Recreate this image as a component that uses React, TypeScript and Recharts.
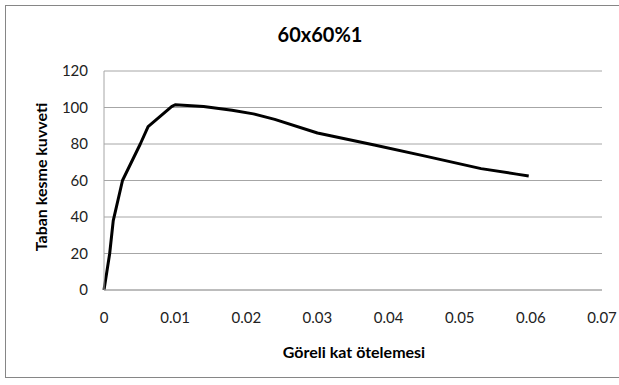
import { LineChart, Line, XAxis, YAxis, CartesianGrid } from "recharts";

// Göreli kat ötelemesi (x) vs taban kesme kuvveti (y)
const drift = [0, 0.0004, 0.0008, 0.0013, 0.0026, 0.0051, 0.0062, 0.0095, 0.01, 0.014, 0.018, 0.021, 0.024, 0.03, 0.038, 0.045, 0.053, 0.058, 0.0597];
const shear = [0, 10, 20, 38, 60, 80, 89.5, 100.5, 101.5, 100.5, 98.5, 96.5, 93.5, 86, 79.5, 73.5, 66.5, 63.5, 62.5];

const xTicks = [0, 0.01, 0.02, 0.03, 0.04, 0.05, 0.06, 0.07];
const yTicks = [0, 20, 40, 60, 80, 100, 120];

const title = "60x60%1";
const xTitle = "Göreli kat ötelemesi";
const yTitle = "Taban kesme kuvveti";

const data = drift.map((x, i) => ({ x, y: shear[i] }));

const FONT = "Lato, 'Liberation Sans', sans-serif";
const tickStyle = { fontSize: 15, fill: "#222", fontFamily: FONT };

export default function App() {
  return (
    <div style={{ position: "absolute", left: 0, top: 0, width: 619, height: 385, background: "#fff", overflow: "hidden" }}>
      <div
        style={{
          position: "absolute", left: 5, top: 5, width: 700, height: 373,
          border: "1px solid #868686", boxSizing: "border-box",
        }}
      />
      <LineChart
        width={619}
        height={385}
        data={data}
        margin={{ top: 71, right: 17, bottom: 65, left: 44 }}
        style={{ position: "absolute", left: 0, top: 0 }}
      >
        <CartesianGrid vertical={false} stroke="#a6a6a6" />
        <XAxis
          dataKey="x"
          type="number"
          domain={[0, 0.07]}
          ticks={xTicks}
          interval={0}
          height={30}
          tickLine={false}
          axisLine={{ stroke: "#a6a6a6" }}
          tickSize={0}
          tickMargin={22}
          tick={tickStyle}
          tickFormatter={(v: number) => String(v)}
        />
        <YAxis
          type="number"
          domain={[0, 120]}
          ticks={yTicks}
          interval={0}
          width={60}
          tickLine={false}
          axisLine={{ stroke: "#a6a6a6" }}
          tickSize={0}
          tickMargin={16}
          tick={tickStyle}
        />
        <Line
          type="linear"
          dataKey="y"
          stroke="#000"
          strokeWidth={3}
          strokeLinejoin="round"
          dot={false}
          isAnimationActive={false}
        />
      </LineChart>
      <svg width={619} height={385} style={{ position: "absolute", left: 0, top: 0, pointerEvents: "none" }}>
        <text x={320} y={42} textAnchor="middle" fontFamily={FONT} fontWeight="bold" fontSize={20} fill="#000">
          {title}
        </text>
        <text x={354} y={358} textAnchor="middle" fontFamily={FONT} fontWeight="bold" fontSize={16} fill="#000">
          {xTitle}
        </text>
        <text
          x={0}
          y={0}
          transform="translate(47,177) rotate(-90)"
          textAnchor="middle"
          fontFamily={FONT}
          fontWeight="bold"
          fontSize={16}
          fill="#000"
        >
          {yTitle}
        </text>
      </svg>
    </div>
  );
}
